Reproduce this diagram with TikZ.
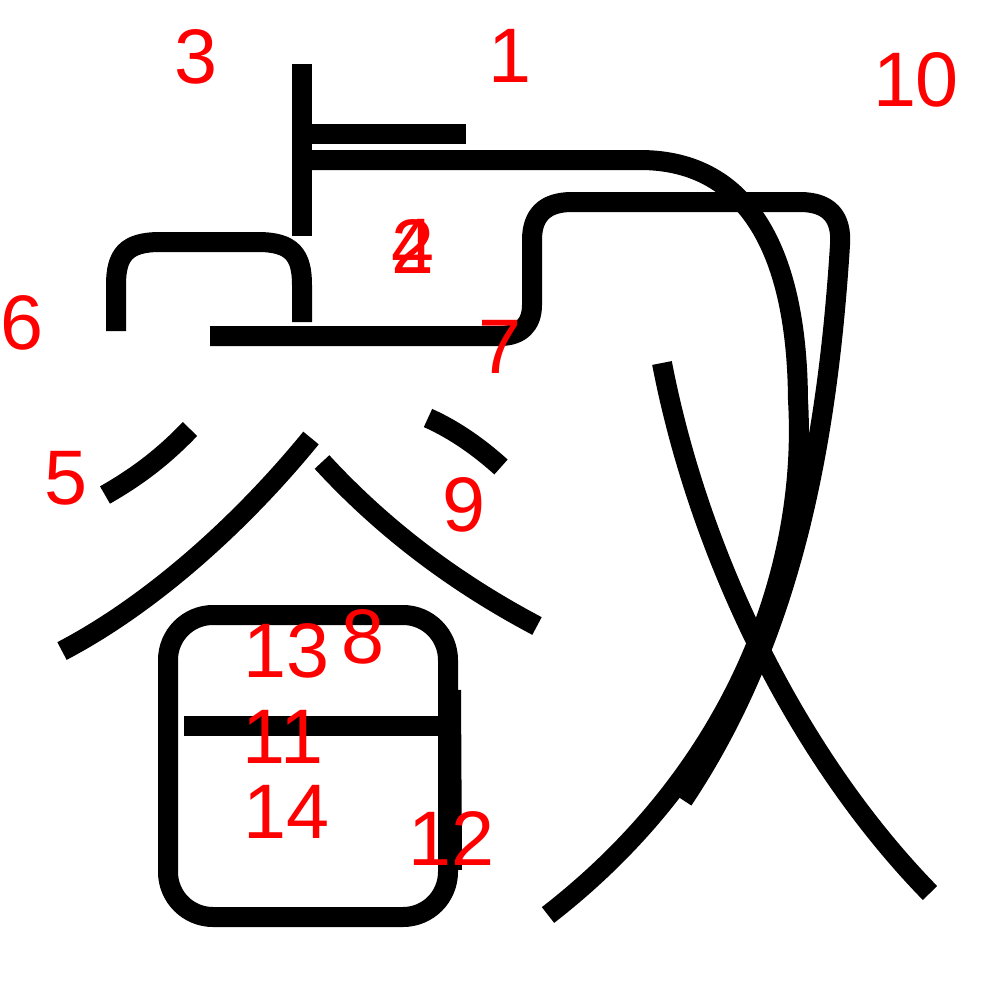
\documentclass[tikz,border=0pt]{standalone}
\usepackage{fontspec}
\setmainfont{Liberation Sans}
\begin{document}
\begin{tikzpicture}[x=0.1mm,y=-0.1mm,
  stroke/.style={draw=black,line width=2mm,line join=round},
  num/.style={text=red,font=\fontsize{22pt}{22pt}\selectfont,inner sep=0pt,anchor=center}]
\useasboundingbox[fill=white] (0,0) rectangle (1000,1000);
% strokes
\draw[stroke] (302,64) -- (302,236);
\draw[stroke] (312,134) -- (466,134);
\draw[stroke] (312,160) -- (640,160) .. controls (750,160) and (797,255) .. (798,400)
   .. controls (808,570) and (735,770) .. (548,915);
\draw[stroke] (116,331) -- (116,285) .. controls (116,255) and (126,242) .. (160,242) -- (258,242)
   .. controls (292,242) and (302,255) .. (302,285) -- (302,322);
\draw[stroke] (105,495) .. controls (140,475) and (165,455) .. (190,429);
\draw[stroke] (311,438) .. controls (240,525) and (150,605) .. (62,651);
\draw[stroke] (210,336) -- (500,336) .. controls (520,336) and (532,325) .. (532,305) -- (532,240)
   .. controls (532,215) and (545,202) .. (572,202) -- (800,202)
   .. controls (830,202) and (842,218) .. (840,245)
   .. controls (827,450) and (790,640) .. (683,800);
\draw[stroke] (428,418) .. controls (455,430) and (480,448) .. (501,467);
\draw[stroke] (322,462) .. controls (380,525) and (450,580) .. (537,626);
\draw[stroke] (662,363) .. controls (700,560) and (800,760) .. (930,893);
\draw[stroke,rounded corners=4.5mm] (168,615) rectangle (448,917);
\draw[stroke] (451,690) -- (452,870);
\draw[stroke] (184,726) -- (438,726);
% labels
\node[num] (n1) at (510,56) {1};
\node[num] (n2) at (413,246) {2};
\node[num] (n4) at (413,246) {4};
\node[num] (n3) at (196,57) {3};
\node[num] (n5) at (66,478) {5};
\node[num] (n6) at (22,323) {6};
\node[num] (n7) at (500,347) {7};
\node[num] (n8) at (363,637) {8};
\node[num] (n9) at (464,505) {9};
\node[num] (n10) at (916,80) {10};
\node[num] (n11) at (283,737) {11};
\node[num] (n12) at (452,838) {12};
\node[num] (n13) at (287,651) {13};
\node[num] (n14) at (287,812) {14};
\end{tikzpicture}
\end{document}
